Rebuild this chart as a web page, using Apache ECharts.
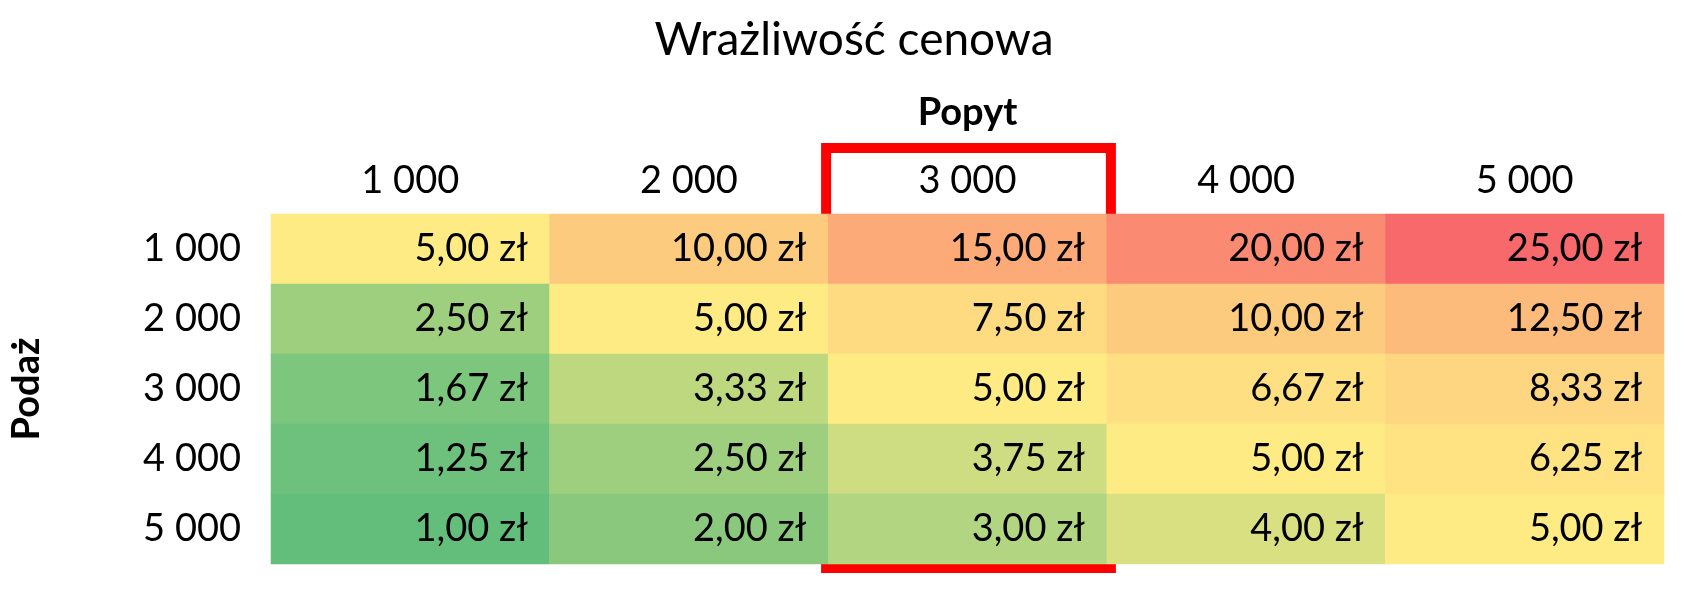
<!DOCTYPE html>
<html><head><meta charset="utf-8">
<script src="https://cdn.jsdelivr.net/npm/echarts@6/dist/echarts.min.js"></script>
<style>html,body{margin:0;padding:0;background:#fff}#c{width:1696px;height:608px}</style>
</head><body><div id="c"></div>
<script>
const popyt = ['1 000','2 000','3 000','4 000','5 000'];
const podaz = ['1 000','2 000','3 000','4 000','5 000'];
const prices = [
  [5.00, 10.00, 15.00, 20.00, 25.00],
  [2.50, 5.00, 7.50, 10.00, 12.50],
  [1.67, 3.33, 5.00, 6.67, 8.33],
  [1.25, 2.50, 3.75, 5.00, 6.25],
  [1.00, 2.00, 3.00, 4.00, 5.00]
];
const highlightCol = 2;

function mix(a,b,t){return a.map((v,i)=>Math.round(v+(b[i]-v)*t));}
const G=[99,190,123],Y=[255,235,132],R=[248,105,107];
const flat=prices.flat().slice().sort((a,b)=>a-b);
const vmin=flat[0],vmax=flat[flat.length-1],vmid=flat[Math.floor(flat.length/2)];
function col(v){
  let c = v<=vmid ? mix(G,Y,(v-vmin)/(vmid-vmin)) : mix(Y,R,(v-vmid)/(vmax-vmid));
  return 'rgb('+c.join(',')+')';
}
const data=[];
prices.forEach((row,r)=>row.forEach((v,c)=>data.push({value:[c,r,v],itemStyle:{color:col(v)}})));
const font='Lato, "Open Sans", sans-serif';
const chart=echarts.init(document.getElementById('c'));
chart.setOption({
  animation:false,
  title:{text:'Wrażliwość cenowa',left:849,top:12,textAlign:'center',textStyle:{fontFamily:font,fontSize:46,fontWeight:'normal',color:'#000'}},
  grid:{left:270,right:32,top:214,bottom:44},
  xAxis:{type:'category',data:popyt,position:'top',name:'Popyt',nameLocation:'middle',nameGap:82,
    nameTextStyle:{fontFamily:font,fontSize:38,fontWeight:'bold',color:'#000'},
    axisLine:{show:false},axisTick:{show:false},splitLine:{show:false},
    axisLabel:{fontFamily:font,fontSize:38,color:'#000',margin:14}},
  yAxis:{type:'category',data:podaz,inverse:true,name:'Podaż',nameLocation:'middle',nameGap:225,nameRotate:90,
    nameTextStyle:{fontFamily:font,fontSize:38,fontWeight:'bold',color:'#000'},
    axisLine:{show:false},axisTick:{show:false},splitLine:{show:false},
    axisLabel:{fontFamily:font,fontSize:38,color:'#000',margin:30}},
  series:[{type:'heatmap',data:data,
    label:{show:true,position:'insideRight',distance:22,fontFamily:font,fontSize:38,color:'#000',
      formatter:p=>p.value[2].toFixed(2).replace('.',',')+' zł'}}]
});
const p0=chart.convertToPixel({gridIndex:0},[highlightCol,0]);
const p1=chart.convertToPixel({gridIndex:0},[highlightCol,4]);
const half=1394/5/2;
chart.setOption({graphic:[{type:'rect',shape:{x:p0[0]-half-2,y:148,width:half*2+6,height:p1[1]+35-148+4},
  style:{fill:'none',stroke:'#ff0000',lineWidth:10}}]});
</script></body></html>
